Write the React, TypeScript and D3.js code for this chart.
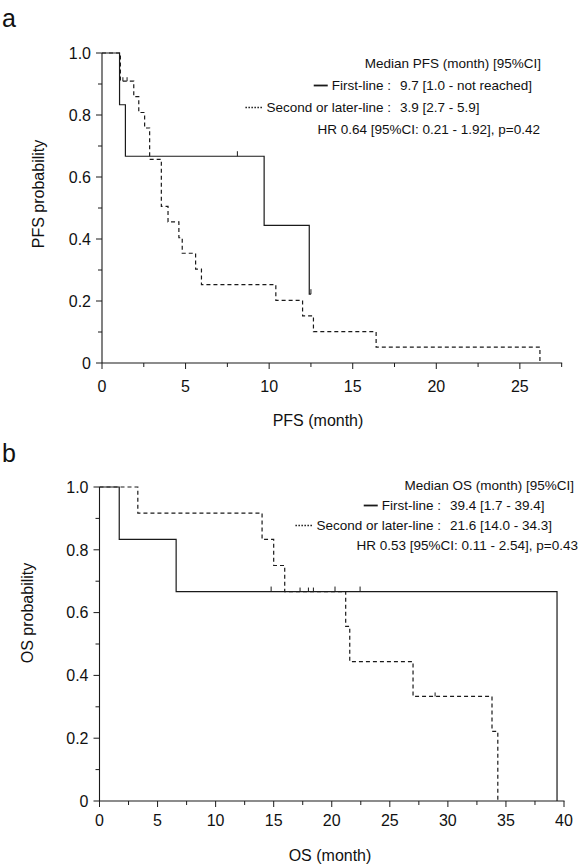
import React, { useEffect, useRef } from "react";
import * as d3 from "d3";

// ---- Panel a: PFS ----
const pfsFirstTimes = [0, 1.05, 1.4, 9.7, 12.4, 12.5];
const pfsFirstSurv = [1, 0.833, 0.667, 0.444, 0.222, 0.222];
const pfsFirstCensor = [8.1, 12.5];

const pfsSecondTimes = [0, 1.1, 1.9, 2.2, 2.55, 2.85, 3.55, 3.95, 4.6, 4.8, 5.6, 5.95, 10.4, 12.0, 12.65, 16.4, 26.2];
const pfsSecondSurv = [1, 0.909, 0.859, 0.808, 0.758, 0.657, 0.505, 0.455, 0.404, 0.354, 0.303, 0.253, 0.202, 0.152, 0.101, 0.051, 0];
const pfsSecondCensor = [1.25, 1.5];

// ---- Panel b: OS ----
const osFirstTimes = [0, 1.7, 6.6, 39.4];
const osFirstSurv = [1, 0.833, 0.667, 0];
const osFirstCensor = [14.78, 20.28, 22.44];

const osSecondTimes = [0, 3.3, 14.0, 15.0, 15.95, 21.2, 21.55, 27.0, 33.8, 34.3];
const osSecondSurv = [1, 0.917, 0.833, 0.75, 0.667, 0.556, 0.444, 0.333, 0.222, 0];
const osSecondCensor = [17.27, 17.99, 18.42, 28.9];

const yTicks = [0, 0.1, 0.2, 0.3, 0.4, 0.5, 0.6, 0.7, 0.8, 0.9, 1.0];
const pfsXTicks = [0, 2.5, 5, 7.5, 10, 12.5, 15, 17.5, 20, 22.5, 25, 27.5];
const osXTicks = [0, 2.5, 5, 7.5, 10, 12.5, 15, 17.5, 20, 22.5, 25, 27.5, 30, 32.5, 35, 37.5, 40];

const pfsLegend = {
  header: "Median PFS (month) [95%CI]",
  labels: ["First-line :", "Second or later-line :"],
  values: ["9.7 [1.0 - not reached]", "3.9 [2.7 - 5.9]"],
  hr: "HR 0.64 [95%CI: 0.21 - 1.92], p=0.42",
};
const osLegend = {
  header: "Median OS (month) [95%CI]",
  labels: ["First-line :", "Second or later-line :"],
  values: ["39.4 [1.7 - 39.4]", "21.6 [14.0 - 34.3]"],
  hr: "HR 0.53 [95%CI: 0.11 - 2.54], p=0.43",
};

const FONT = "Arial, 'Liberation Sans', Helvetica, sans-serif";
const INK = "#1a1a1a";

type Panel = {
  letter: string;
  letterY: number;
  left: number; right: number; top: number; bottom: number;
  xMax: number;
  xTicks: number[];
  xLabelDy: number;
  xTitle: string; xTitleX: number; xTitleY: number;
  yTitle: string; yTitleX: number; yTitleY: number;
  curves: { times: number[]; surv: number[]; censor: number[]; dashed: boolean }[];
  legend: typeof pfsLegend;
  legHeaderRight: number; legColX: number; legY0: number; legStep: number; hrRight: number;
};

const panels: Panel[] = [
  {
    letter: "a", letterY: 27,
    left: 102, right: 565, top: 53, bottom: 363,
    xMax: 27.7, xTicks: pfsXTicks, xLabelDy: 29,
    xTitle: "PFS (month)", xTitleX: 318, xTitleY: 426,
    yTitle: "PFS probability", yTitleX: 44, yTitleY: 194,
    curves: [
      { times: pfsFirstTimes, surv: pfsFirstSurv, censor: pfsFirstCensor, dashed: false },
      { times: pfsSecondTimes, surv: pfsSecondSurv, censor: pfsSecondCensor, dashed: true },
    ],
    legend: pfsLegend,
    legHeaderRight: 541, legColX: 395, legY0: 68, legStep: 22, hrRight: 540,
  },
  {
    letter: "b", letterY: 462,
    left: 99.5, right: 564, top: 487, bottom: 801,
    xMax: 40, xTicks: osXTicks, xLabelDy: 25,
    xTitle: "OS (month)", xTitleX: 330, xTitleY: 861,
    yTitle: "OS probability", yTitleX: 33, yTitleY: 613,
    curves: [
      { times: osFirstTimes, surv: osFirstSurv, censor: osFirstCensor, dashed: false },
      { times: osSecondTimes, surv: osSecondSurv, censor: osSecondCensor, dashed: true },
    ],
    legend: osLegend,
    legHeaderRight: 574, legColX: 445, legY0: 490, legStep: 20, hrRight: 578,
  },
];

function survAt(times: number[], surv: number[], t: number) {
  let s = surv[0];
  for (let i = 0; i < times.length; i++) if (times[i] <= t) s = surv[i];
  return s;
}

export default function App() {
  const ref = useRef<SVGSVGElement>(null);
  useEffect(() => {
    const svg = d3.select(ref.current);
    svg.selectAll("*").remove();
    svg.append("rect").attr("width", 579).attr("height", 866).attr("fill", "#fff");

    panels.forEach((p) => {
      const g = svg.append("g");
      const x = d3.scaleLinear().domain([0, p.xMax]).range([p.left, p.right]);
      const y = d3.scaleLinear().domain([0, 1]).range([p.bottom, p.top]);

      g.append("text").attr("x", 2).attr("y", p.letterY).attr("font-size", 25)
        .attr("font-family", FONT).attr("fill", "#111").text(p.letter);

      // axes
      g.append("line").attr("x1", p.left).attr("x2", p.left).attr("y1", y(1)).attr("y2", y(0))
        .attr("stroke", INK).attr("stroke-width", 1.1);
      g.append("line").attr("x1", p.left).attr("x2", x(p.xTicks[p.xTicks.length - 1]) + 0.5).attr("y1", p.bottom).attr("y2", p.bottom)
        .attr("stroke", INK).attr("stroke-width", 1.1);

      yTicks.forEach((t, i) => {
        const major = i % 2 === 0;
        g.append("line").attr("x1", p.left - (major ? 6 : 4)).attr("x2", p.left)
          .attr("y1", y(t)).attr("y2", y(t)).attr("stroke", INK).attr("stroke-width", 1);
        if (major) {
          g.append("text").attr("x", p.left - 11).attr("y", y(t)).attr("dy", "0.36em")
            .attr("text-anchor", "end").attr("font-size", 16).attr("font-family", FONT).attr("fill", "#111")
            .text(t === 0 ? "0" : d3.format(".1f")(t));
        }
      });
      p.xTicks.forEach((t, i) => {
        const major = i % 2 === 0;
        g.append("line").attr("x1", x(t)).attr("x2", x(t))
          .attr("y1", p.bottom).attr("y2", p.bottom + (major ? 6 : 4)).attr("stroke", INK).attr("stroke-width", 1);
        if (major) {
          g.append("text").attr("x", x(t)).attr("y", p.bottom + p.xLabelDy)
            .attr("text-anchor", "middle").attr("font-size", 16).attr("font-family", FONT).attr("fill", "#111")
            .text(String(t));
        }
      });

      g.append("text").attr("x", p.xTitleX).attr("y", p.xTitleY).attr("text-anchor", "middle")
        .attr("font-size", 16).attr("font-family", FONT).attr("fill", "#111").text(p.xTitle);
      g.append("text").attr("transform", `translate(${p.yTitleX},${p.yTitleY}) rotate(-90)`)
        .attr("text-anchor", "middle").attr("font-size", 16).attr("font-family", FONT).attr("fill", "#111").text(p.yTitle);

      // curves
      const line = d3.line<[number, number]>().x((d) => x(d[0])).y((d) => y(d[1])).curve(d3.curveStepAfter);
      p.curves.forEach((c) => {
        const pts = c.times.map((t, i) => [t, c.surv[i]] as [number, number]);
        g.append("path").attr("d", line(pts)).attr("fill", "none").attr("stroke", INK)
          .attr("stroke-width", 1.2).attr("stroke-dasharray", c.dashed ? "4,3" : null);
        c.censor.forEach((t) => {
          const s = survAt(c.times, c.surv, t);
          g.append("line").attr("x1", x(t)).attr("x2", x(t)).attr("y1", y(s)).attr("y2", y(s) - (c.dashed ? 4 : 5))
            .attr("stroke", INK).attr("stroke-width", 1);
        });
      });

      // legend
      const L = p.legend;
      const fs = 13.5;
      g.append("text").attr("x", p.legHeaderRight).attr("y", p.legY0).attr("text-anchor", "end")
        .attr("font-size", fs).attr("font-family", FONT).attr("fill", "#111").text(L.header);
      L.labels.forEach((lab, i) => {
        const yy = p.legY0 + p.legStep * (i + 1);
        const t = g.append("text").attr("x", p.legColX - 4).attr("y", yy).attr("text-anchor", "end")
          .attr("font-size", fs).attr("font-family", FONT).attr("fill", "#111").text(lab);
        g.append("text").attr("x", p.legColX + 5).attr("y", yy).attr("text-anchor", "start")
          .attr("font-size", fs).attr("font-family", FONT).attr("fill", "#111").text(L.values[i]);
        const w = (t.node() as SVGTextElement).getComputedTextLength();
        const x1 = p.legColX - 4 - w - 4;
        const len = i === 0 ? 14 : 17;
        g.append("line").attr("x1", x1 - len).attr("x2", x1).attr("y1", yy - 4.5).attr("y2", yy - 4.5)
          .attr("stroke", INK).attr("stroke-width", i === 0 ? 1.8 : 1.4)
          .attr("stroke-dasharray", i === 0 ? null : "1.5,1.5");
      });
      g.append("text").attr("x", p.hrRight).attr("y", p.legY0 + p.legStep * 3).attr("text-anchor", "end")
        .attr("font-size", fs).attr("font-family", FONT).attr("fill", "#111").text(L.hr);
    });
  }, []);
  return (
    <svg ref={ref} width={579} height={866} style={{ display: "block", position: "absolute", left: 0, top: 0 }} />
  );
}
